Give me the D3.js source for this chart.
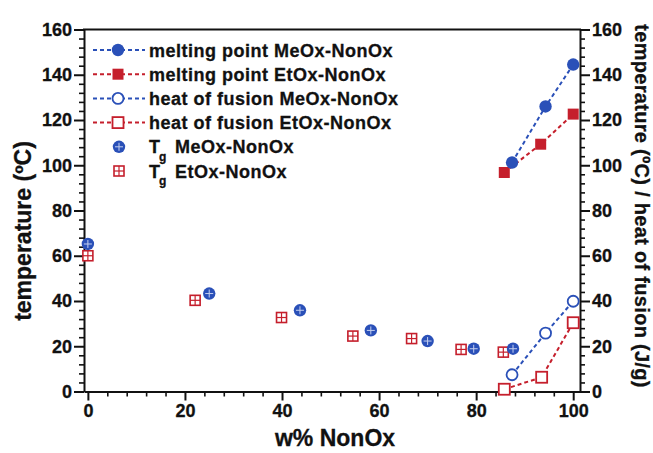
<!DOCTYPE html>
<html>
<head>
<meta charset="utf-8">
<script src="https://cdn.jsdelivr.net/npm/d3@7"></script>
<style>
  body { margin: 0; background: #fff; }
  svg text { font-family: "Liberation Sans", Arial, sans-serif; font-weight: bold; fill: #111; stroke: #111; stroke-width: 0.3px; }
</style>
</head>
<body>
<div id="chart"></div>
<script>
// podatki (odčitani s slike)
const mpMeOxX = [87.4, 94.3, 100];
const mpMeOxY = [101.2, 126.0, 144.5];
const mpEtOxX = [85.8, 93.3, 100];
const mpEtOxY = [96.8, 109.3, 122.6];
const hfMeOxX = [87.4, 94.3, 100];
const hfMeOxY = [7.4, 25.8, 39.9];
const hfEtOxX = [85.8, 93.5, 100];
const hfEtOxY = [1.0, 6.3, 30.4];
const tgMeOxX = [0, 25, 43.7, 58.3, 70, 79.5, 87.6];
const tgMeOxY = [65.2, 43.3, 35.9, 27.0, 22.3, 18.9, 18.9];
const tgEtOxX = [0, 22.1, 39.9, 54.6, 66.7, 76.9, 85.6];
const tgEtOxY = [60, 40.3, 32.7, 24.5, 23.4, 18.6, 17.4];

const xTicks = [0, 20, 40, 60, 80, 100];
const yTicks = [0, 20, 40, 60, 80, 100, 120, 140, 160];
const legendLabels = [
  "melting point MeOx-NonOx",
  "melting point EtOx-NonOx",
  "heat of fusion MeOx-NonOx",
  "heat of fusion EtOx-NonOx",
  "MeOx-NonOx",
  "EtOx-NonOx"
];

const blue = "#2a50b8";
const red = "#c51f2c";

const W = 653, H = 453;
const svg = d3.select("#chart").append("svg")
  .attr("width", W).attr("height", H);

const x = d3.scaleLinear().domain([-0.8, 101.4]).range([84, 580]);
const y = d3.scaleLinear().domain([0, 160]).range([391.5, 29.5]);

// manjše oznake
const xMinor = d3.range(0, 101, 4).filter(v => v % 20 !== 0);
const yMinor = d3.range(0, 161, 4).filter(v => v % 20 !== 0);

function styleAxis(g) {
  g.select(".domain").attr("stroke", "#111").attr("stroke-width", 2);
  g.selectAll(".tick line").attr("stroke", "#111").attr("stroke-width", 2);
  g.selectAll(".tick text").attr("font-size", "18px").attr("fill", "#111")
    .attr("font-family", "Liberation Sans, Arial, sans-serif").attr("font-weight", "bold");
}

// os x
svg.append("g").attr("transform", `translate(0,${y.range()[0]})`)
  .call(d3.axisBottom(x).tickValues(xMinor).tickSize(5).tickFormat(""))
  .call(g => { styleAxis(g); g.select(".domain").remove(); g.selectAll(".tick line").attr("stroke-width", 1.6); });
svg.append("g").attr("transform", `translate(0,${y.range()[0]})`)
  .call(d3.axisBottom(x).tickValues(xTicks).tickSize(9).tickSizeOuter(0).tickPadding(4))
  .call(styleAxis);

// os y levo
svg.append("g").attr("transform", `translate(${x.range()[0]},0)`)
  .call(d3.axisLeft(y).tickValues(yMinor).tickSize(5).tickFormat(""))
  .call(g => { styleAxis(g); g.select(".domain").remove(); g.selectAll(".tick line").attr("stroke-width", 1.6); });
svg.append("g").attr("transform", `translate(${x.range()[0]},0)`)
  .call(d3.axisLeft(y).tickValues(yTicks).tickSize(10).tickSizeOuter(0).tickPadding(2))
  .call(styleAxis);

// os y desno
svg.append("g").attr("transform", `translate(${x.range()[1]},0)`)
  .call(d3.axisRight(y).tickValues(yMinor).tickSize(5).tickFormat(""))
  .call(g => { styleAxis(g); g.select(".domain").remove(); g.selectAll(".tick line").attr("stroke-width", 1.6); });
svg.append("g").attr("transform", `translate(${x.range()[1]},0)`)
  .call(d3.axisRight(y).tickValues(yTicks).tickSize(10).tickSizeOuter(0).tickPadding(2))
  .call(styleAxis);

// zgornja črta
svg.append("line")
  .attr("x1", x.range()[0] - 1).attr("x2", x.range()[1] + 1)
  .attr("y1", y.range()[1]).attr("y2", y.range()[1])
  .attr("stroke", "#111").attr("stroke-width", 2);

// naslovi osi
svg.append("text").attr("x", 335).attr("y", 446)
  .attr("text-anchor", "middle").attr("font-size", "23px").text("w% NonOx");
svg.append("text").attr("transform", "translate(31,231) rotate(-90)")
  .attr("text-anchor", "middle").attr("font-size", "23px").text("temperature (ºC)");
svg.append("text").attr("transform", "translate(635,206) rotate(90)")
  .attr("text-anchor", "middle").attr("font-size", "20px").attr("letter-spacing", "0.3px")
  .text("temperature (ºC) / heat of fusion (J/g)");

// risanje
const line = d3.line().x(d => x(d[0])).y(d => y(d[1]));
const zip = (a, b) => a.map((v, i) => [v, b[i]]);

function dashed(pts, color) {
  svg.append("path").datum(pts).attr("d", line)
    .attr("fill", "none").attr("stroke", color).attr("stroke-width", 2)
    .attr("stroke-dasharray", "4,3");
}

function marker(g, type, cx, cy) {
  if (type === "fcircle") {
    g.append("circle").attr("cx", cx).attr("cy", cy).attr("r", 6.2).attr("fill", blue);
  } else if (type === "fsquare") {
    g.append("rect").attr("x", cx - 5.5).attr("y", cy - 5.5).attr("width", 11).attr("height", 11).attr("fill", red);
  } else if (type === "ocircle") {
    g.append("circle").attr("cx", cx).attr("cy", cy).attr("r", 5.5)
      .attr("fill", "#fff").attr("stroke", blue).attr("stroke-width", 1.8);
  } else if (type === "osquare") {
    g.append("rect").attr("x", cx - 5.5).attr("y", cy - 5.5).attr("width", 11).attr("height", 11)
      .attr("fill", "#fff").attr("stroke", red).attr("stroke-width", 1.8);
  } else if (type === "tgcircle") {
    g.append("circle").attr("cx", cx).attr("cy", cy).attr("r", 6.2).attr("fill", blue);
    g.append("line").attr("x1", cx - 4).attr("x2", cx + 4).attr("y1", cy).attr("y2", cy)
      .attr("stroke", "#c4cff0").attr("stroke-width", 1);
    g.append("line").attr("x1", cx).attr("x2", cx).attr("y1", cy - 4).attr("y2", cy + 4)
      .attr("stroke", "#c4cff0").attr("stroke-width", 1);
  } else if (type === "tgsquare") {
    g.append("rect").attr("x", cx - 5).attr("y", cy - 5).attr("width", 10).attr("height", 10)
      .attr("fill", "#fff").attr("stroke", red).attr("stroke-width", 1.6);
    g.append("line").attr("x1", cx - 5).attr("x2", cx + 5).attr("y1", cy).attr("y2", cy)
      .attr("stroke", red).attr("stroke-width", 1.2);
    g.append("line").attr("x1", cx).attr("x2", cx).attr("y1", cy - 5).attr("y2", cy + 5)
      .attr("stroke", red).attr("stroke-width", 1.2);
  }
}

const series = [
  { xs: mpMeOxX, ys: mpMeOxY, color: blue, type: "fcircle", line: true },
  { xs: mpEtOxX, ys: mpEtOxY, color: red, type: "fsquare", line: true },
  { xs: hfMeOxX, ys: hfMeOxY, color: blue, type: "ocircle", line: true },
  { xs: hfEtOxX, ys: hfEtOxY, color: red, type: "osquare", line: true },
  { xs: tgMeOxX, ys: tgMeOxY, color: blue, type: "tgcircle", line: false },
  { xs: tgEtOxX, ys: tgEtOxY, color: red, type: "tgsquare", line: false }
];

// najprej Tg, nato črte s točkami
[series[5], series[4], series[3], series[2], series[1], series[0]].forEach(s => {
  if (s.line) dashed(zip(s.xs, s.ys), s.color);
  const g = svg.append("g");
  s.xs.forEach((v, i) => marker(g, s.type, x(v), y(s.ys[i])));
});

// legenda
const legY = d3.scaleLinear().domain([0, 5]).range([50, 171]);
series.forEach((s, i) => {
  const cy = legY(i);
  const g = svg.append("g");
  if (s.line) {
    g.append("line").attr("x1", 93).attr("x2", 145).attr("y1", cy).attr("y2", cy)
      .attr("stroke", s.color).attr("stroke-width", 2).attr("stroke-dasharray", "4,3");
    marker(g, s.type, 118, cy);
    g.append("text").attr("x", 149).attr("y", cy + 6.5)
      .attr("font-size", "18px").attr("letter-spacing", "0.5px").text(legendLabels[i]);
  } else {
    marker(g, s.type, 119, cy);
    g.append("text").attr("x", 149).attr("y", cy + 6.5)
      .attr("font-size", "18px").text("T");
    g.append("text").attr("x", 159).attr("y", cy + 14)
      .attr("font-size", "12px").text("g");
    g.append("text").attr("x", 175).attr("y", cy + 6.5)
      .attr("font-size", "18px").attr("letter-spacing", "0.5px").text(legendLabels[i]);
  }
});
</script>
</body>
</html>
